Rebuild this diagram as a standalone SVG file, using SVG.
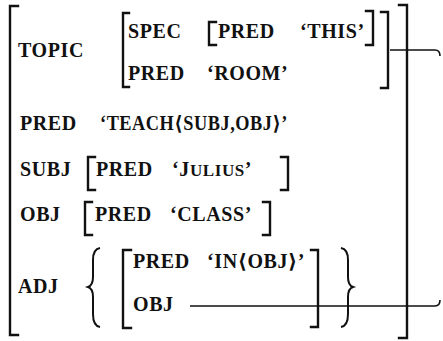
<svg xmlns="http://www.w3.org/2000/svg" width="443" height="341" viewBox="0 0 443 341">
<style>
.t text{font-weight:bold;font-size:20px;letter-spacing:0.6px;fill:#111}
.sc{font-size:17px}
.br{fill:none;stroke:#111;stroke-width:2.4;stroke-linecap:square}
.bc{fill:none;stroke:#111;stroke-width:2}
.ln{fill:none;stroke:#111;stroke-width:1.6}
</style>
<rect width="443" height="341" fill="#fff"/>
<g class="t" font-family="Liberation Serif, DejaVu Serif, Times New Roman, serif">
<g id="outer">
<path class="br" d="M18,6 H10 V335 H18"/>
<path class="br" d="M399,5 H407 V338 H399"/>
</g>
<g id="topic">
<text x="18" y="57">TOPIC</text>
<path class="br" d="M129,13 H123 V87 H129"/>
<text x="128" y="38">SPEC</text>
<path class="br" d="M216,22 H209 V45 H216"/>
<text x="218" y="38">PRED</text>
<text x="300" y="38">‘THIS’</text>
<path class="br" d="M366,11 H373 V45 H366"/>
<text x="128" y="80">PRED</text>
<text x="207" y="80">‘ROOM’</text>
<path class="br" d="M381,12 H388 V88 H381"/>
</g>
<g id="pred">
<text x="20" y="130">PRED</text>
<text x="100" y="130" textLength="188" lengthAdjust="spacingAndGlyphs">‘TEACH⟨SUBJ,OBJ⟩’</text>
</g>
<g id="subj">
<text x="20" y="176">SUBJ</text>
<path class="br" d="M95,157 H88 V190 H95"/>
<text x="96" y="176">PRED</text>
<text x="172" y="176">‘J<tspan class="sc">ULIUS</tspan>’</text>
<path class="br" d="M281,157 H288 V190 H281"/>
</g>
<g id="obj">
<text x="20" y="221">OBJ</text>
<path class="br" d="M92,202 H85 V235 H92"/>
<text x="95" y="221">PRED</text>
<text x="170" y="221">‘CLASS’</text>
<path class="br" d="M263,202 H270 V235 H263"/>
</g>
<g id="adj">
<text x="18" y="293">ADJ</text>
<path class="bc" d="M100,248 C94,249 93,254 93,260 L93,277 C93,283 91,286 88,287 C91,288 93,291 93,297 L93,314 C93,320 94,326 100,327"/>
<path class="br" d="M131,250 H123 V328 H131"/>
<text x="133" y="268">PRED</text>
<text x="207" y="268">‘IN⟨OBJ⟩’</text>
<text x="133" y="311">OBJ</text>
<path class="br" d="M311,250 H318 V327 H311"/>
<path class="bc" d="M341,248 C347,249 348,254 348,260 L348,277 C348,283 350,286 353,287 C350,288 348,291 348,297 L348,314 C348,320 347,326 341,327"/>
</g>
<g id="connectors">
<path class="ln" d="M390,50 H435 Q440,50 440,56"/>
<path class="ln" d="M190,306 H435 Q440,306 440,300"/>
</g>
</g>
</svg>
